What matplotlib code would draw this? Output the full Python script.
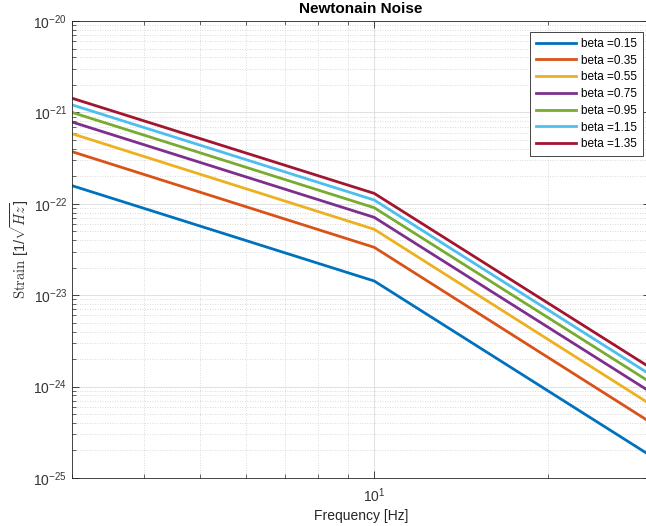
import numpy as np
import matplotlib
matplotlib.use('Agg')
import matplotlib.pyplot as plt
from matplotlib.ticker import LogLocator, FixedLocator, FuncFormatter, NullFormatter

plt.rcParams['font.family'] = ['Liberation Sans', 'DejaVu Sans']
plt.rcParams['mathtext.fontset'] = 'custom'
plt.rcParams['mathtext.rm'] = 'Liberation Sans'
plt.rcParams['mathtext.it'] = 'Liberation Sans'
plt.rcParams['mathtext.default'] = 'regular'

# values (straight segments in log-log)
freq = [3, 10, 30]
betas = [0.15, 0.35, 0.55, 0.75, 0.95, 1.15, 1.35]
strain = [
    [1.58e-22, 1.43e-23, 1.77e-25],
    [3.72e-22, 3.34e-23, 4.10e-25],
    [5.85e-22, 5.26e-23, 6.45e-25],
    [7.85e-22, 7.11e-23, 8.80e-25],
    [1.00e-21, 9.06e-23, 1.12e-24],
    [1.21e-21, 1.10e-22, 1.36e-24],
    [1.43e-21, 1.30e-22, 1.62e-24],
]
colors = ['#0072BD', '#D95319', '#EDB120', '#7E2F8E', '#77AC30', '#4DBEEE', '#A2142F']
x_major = [10]
y_major = [1e-25, 1e-24, 1e-23, 1e-22, 1e-21, 1e-20]

W, H = 646, 526
fig = plt.figure(figsize=(W / 100, H / 100), dpi=100)
ax = fig.add_axes([72 / W, (H - 478) / H, 578 / W, 457 / H])

for b, s, c in zip(betas, strain, colors):
    ax.loglog(freq, s, color=c, lw=2.0, label='beta =%.2f' % b)

ax.set_xlim(3, 30)
ax.set_ylim(1e-25, 1e-20)

ax.xaxis.set_major_locator(FixedLocator(x_major))
ax.xaxis.set_minor_locator(LogLocator(base=10, subs=np.arange(2, 10), numticks=10))
ax.yaxis.set_major_locator(FixedLocator(y_major))
ax.yaxis.set_minor_locator(LogLocator(base=10, subs=np.arange(2, 10), numticks=10))
fmt = FuncFormatter(lambda v, p: r'$10^{%d}$' % int(round(np.log10(v))))
ax.xaxis.set_major_formatter(fmt)
ax.yaxis.set_major_formatter(fmt)
ax.xaxis.set_minor_formatter(NullFormatter())
ax.yaxis.set_minor_formatter(NullFormatter())

ax.tick_params(which='both', direction='in', top=True, right=True, colors='#262626',
               labelsize=10, labelcolor='#333333')
ax.tick_params(which='major', length=5, width=0.6)
ax.tick_params(which='minor', length=3, width=0.5)
ax.tick_params(axis='x', which='major', pad=6)

ax.grid(True, which='major', color='#dcdcdc', lw=0.6, ls='-')
ax.grid(True, which='minor', color='#cfcfcf', lw=0.6, ls=(0, (1, 2)))
ax.set_axisbelow(True)
for sp in ax.spines.values():
    sp.set_color('#262626')
    sp.set_linewidth(0.6)

ax.set_title('Newtonain Noise', fontsize=11, fontweight='bold', color='black', pad=6)
ax.set_xlabel('Frequency [Hz]', fontsize=10, color='#262626', labelpad=3)
ax.set_ylabel(r'$\mathrm{Strain}\ [1/\sqrt{\mathit{Hz}}]$', fontsize=10.5, color='#333333',
              math_fontfamily='cm', labelpad=2)

leg = ax.legend(loc='upper right', bbox_to_anchor=(643 / W, 1 - 32 / H),
                bbox_transform=fig.transFigure, fontsize=8.5, frameon=True,
                fancybox=False, framealpha=1, edgecolor='#262626',
                handlelength=3.4, handletextpad=0.45, labelspacing=0.4,
                borderpad=0.5, borderaxespad=0)
leg.get_frame().set_linewidth(0.6)

fig.savefig('out.png', dpi=100)
